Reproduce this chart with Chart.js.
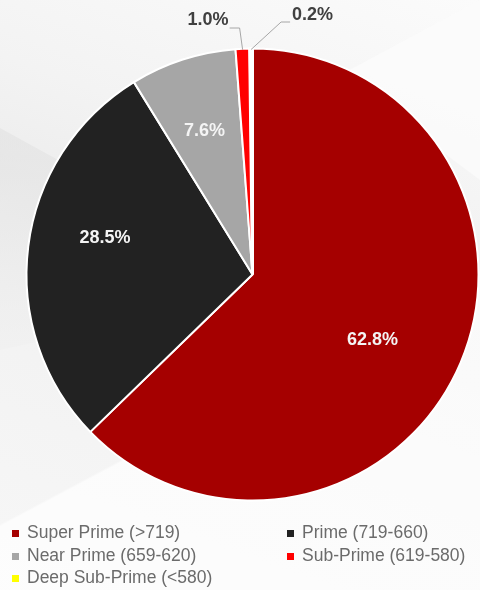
<!DOCTYPE html>
<html>
<head>
<meta charset="utf-8">
<script src="https://cdn.jsdelivr.net/npm/chart.js@4/dist/chart.umd.min.js"></script>
<style>
  html, body { margin: 0; padding: 0; }
  body {
    width: 480px; height: 590px; position: relative; overflow: hidden;
    background:
      linear-gradient(152deg, rgba(255,255,255,0) 0%, rgba(255,255,255,0) 62%, rgba(255,255,255,0.7) 62.3%, rgba(255,255,255,0.7) 100%),
      linear-gradient(200deg, #fbfbfb 0%, #f3f3f3 30%, #ededed 45%, #f2f2f2 60%, #f7f7f7 100%);
  }
  .band {
    position: absolute; left: 0; top: 0; width: 480px; height: 590px;
    background: linear-gradient(180deg, #e2e2e2 25%, #f0f0f0 60%);
    opacity: 0.6;
    clip-path: polygon(0 128px, 80px 172px, 45px 340px, 0 350px);
  }
  .hi {
    position: absolute; left: 0; top: 0; width: 480px; height: 590px;
    background: #fbfbfb; opacity: 0.8;
    clip-path: polygon(340px 75px, 480px 0, 480px 0, 480px 180px);
  }
  canvas { position: absolute; left: 0; top: 0; }
  #legend { position: absolute; left: 0; top: 521px; width: 480px; font-family: "Liberation Sans", Arial, sans-serif; font-size: 17.5px; color: #6b6b6b; }
  .item { position: absolute; height: 22px; line-height: 22px; white-space: nowrap; }
  .item i { display: inline-block; width: 7px; height: 7px; margin-right: 8px; vertical-align: 1px; }
</style>
</head>
<body>
<div class="band"></div>
<div class="hi"></div>
<canvas id="pie" width="480" height="590"></canvas>
<div id="legend"></div>
<script>
const categories = ['Super Prime (>719)', 'Prime (719-660)', 'Near Prime (659-620)', 'Sub-Prime (619-580)', 'Deep Sub-Prime (<580)'];
const shares = [62.8, 28.5, 7.6, 1.0, 0.2];
const colors = ['#a50000', '#222222', '#a6a6a6', '#ff0000', '#ffff00'];

// inside labels: angle nudge (degrees) and distance as a fraction of the radius
const inside = {
  0: { da: 5.7, rf: 0.605 },
  1: { da: 6.6, rf: 0.672 },
  2: { da: -0.5, rf: 0.67 }
};
// small slices get a leader line out to a label above the pie
const callouts = {
  3: { side: 'left', elbowY: 28, len: 10 },
  4: { side: 'right', elbowY: 22, len: 9, slant: 30 }
};

const sliceLabels = {
  id: 'sliceLabels',
  afterDatasetsDraw(chart) {
    const { ctx } = chart;
    const meta = chart.getDatasetMeta(0);
    ctx.save();
    ctx.font = 'bold 18px "Liberation Sans", Arial, sans-serif';
    ctx.textBaseline = 'middle';
    meta.data.forEach((arc, i) => {
      const { x, y, startAngle, endAngle, outerRadius } = arc.getProps(['x', 'y', 'startAngle', 'endAngle', 'outerRadius'], true);
      const mid = (startAngle + endAngle) / 2;
      const text = shares[i].toFixed(1) + '%';
      const c = callouts[i];
      if (!c) {
        const n = inside[i] || { da: 0, rf: 0.64 };
        const a = mid + n.da * Math.PI / 180;
        const r = outerRadius * n.rf;
        ctx.fillStyle = '#f4f4f4';
        ctx.textAlign = 'center';
        ctx.fillText(text, x + Math.cos(a) * r, y + Math.sin(a) * r);
        return;
      }
      const px = x + Math.cos(mid) * (outerRadius - 1);
      const py = y + Math.sin(mid) * (outerRadius - 1);
      ctx.strokeStyle = '#a6a6a6';
      ctx.lineWidth = 1;
      ctx.beginPath();
      ctx.moveTo(px, py);
      let ex;
      ctx.fillStyle = '#404040';
      if (c.side === 'left') {
        ex = px - 3;
        ctx.lineTo(ex, c.elbowY);
        ctx.lineTo(ex - c.len, c.elbowY);
        ctx.stroke();
        ctx.textAlign = 'right';
        ctx.fillText(text, ex - c.len - 1, c.elbowY - 8);
      } else {
        ex = px + c.slant;
        ctx.lineTo(ex, c.elbowY);
        ctx.lineTo(ex + c.len, c.elbowY);
        ctx.stroke();
        ctx.textAlign = 'left';
        ctx.fillText(text, ex + c.len + 2, c.elbowY - 7);
      }
    });
    ctx.restore();
  }
};

new Chart(document.getElementById('pie'), {
  type: 'pie',
  data: {
    labels: categories,
    datasets: [{
      data: shares,
      backgroundColor: colors,
      borderColor: '#ffffff',
      borderWidth: [2, 2, 2, 2, 3]
    }]
  },
  options: {
    responsive: false,
    animation: false,
    layout: { padding: { left: 25, right: 0, top: 47, bottom: 88 } },
    plugins: { legend: { display: false }, tooltip: { enabled: false } }
  },
  plugins: [sliceLabels]
});

// two-column legend under the pie
const legend = document.getElementById('legend');
legend.innerHTML = categories.map((name, i) => {
  const col = i % 2, row = Math.floor(i / 2);
  return `<div class="item" style="left:${col ? 287 : 12}px; top:${row * 22.5}px"><i style="background:${colors[i]}"></i>${name}</div>`;
}).join('');
</script>
</body>
</html>
